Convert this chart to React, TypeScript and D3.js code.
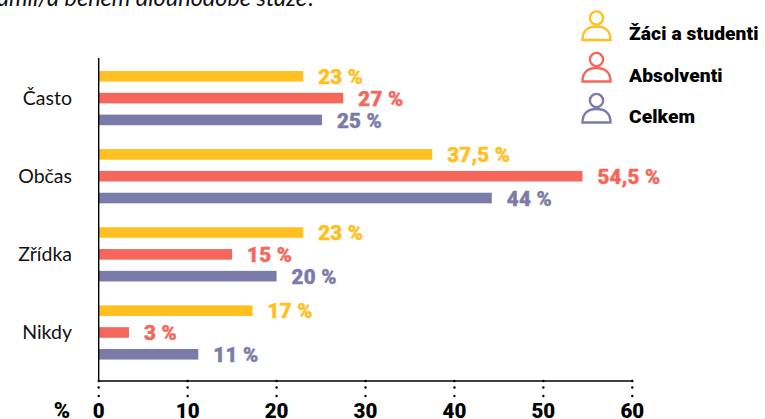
import React from "react";
import * as d3 from "d3";

const categories = ["Často", "Občas", "Zřídka", "Nikdy"];
const seriesNames = ["Žáci a studenti", "Absolventi", "Celkem"];
const students = [23, 37.5, 23, 17.3];
const graduates = [27.5, 54.4, 15, 3.4];
const total = [25.1, 44.2, 20, 11.2];
const studentLabels = ["23 %", "37,5 %", "23 %", "17 %"];
const graduateLabels = ["27 %", "54,5 %", "15 %", "3 %"];
const totalLabels = ["25 %", "44 %", "20 %", "11 %"];
const xTicks = [0, 10, 20, 30, 40, 50, 60];
const colors = ["#FFC020", "#F5675A", "#7B7BAA"];
const titleTail = "amil/a během dlouhodobé stáže?";

const FONT = "Lato, 'Open Sans', sans-serif";
const HEAVY = "Roboto, Lato, sans-serif";

export default function App() {
  const x = d3.scaleLinear().domain([0, 60]).range([98.7, 632.3]);
  const y0 = d3.scaleBand<string>().domain(categories).range([58.5, 371]).paddingInner(0).paddingOuter(0);
  const rows = [
    { v: students, l: studentLabels },
    { v: graduates, l: graduateLabels },
    { v: total, l: totalLabels },
  ];
  const y1 = d3.scaleBand<number>().domain([0, 1, 2]).range([12, 66.5]).paddingInner(0.5).paddingOuter(0);
  const barH = 10.6;
  const legendBottom = [40, 81.5, 122.5];
  return (
    <svg width={765} height={419} style={{ position: "absolute", left: 0, top: 0, background: "#fff" }}>
      <text x={-3} y={6} fontFamily={FONT} fontStyle="italic" fontSize={23.5} fill="#111">{titleTail}</text>

      {categories.map((c, i) =>
        rows.map((r, s) => {
          const yy = (y0(c) as number) + (y1(s) as number) - 0.3;
          return (
            <g key={c + s}>
              <rect x={x(0)} y={yy + 0.8} width={x(r.v[i]) - x(0)} height={barH} fill={colors[s]} />
              <text x={x(r.v[i]) + 15} y={yy + 13.8} fontFamily={HEAVY} fontWeight={900} fontSize={20.5} letterSpacing={0.25} stroke={colors[s]} strokeWidth={0.4} fill={colors[s]}>{r.l[i]}</text>
            </g>
          );
        })
      )}

      {categories.map((c) => (
        <text key={c} x={72} y={(y0(c) as number) + 46.5} textAnchor="end" fontFamily={FONT} fontSize={19.5} fill="#111">{c}</text>
      ))}

      <line x1={98.7} x2={98.7} y1={58} y2={381.5} stroke="#000" strokeWidth={1.4} />
      <line x1={98} x2={633} y1={381} y2={381} stroke="#000" strokeWidth={1.4} />
      {xTicks.map((t) => (
        <g key={t}>
          {[381, 387.5, 396].map((d) => (
            <circle key={d} cx={x(t)} cy={d} r={1.2} fill="#000" />
          ))}
          <text x={x(t)} y={417.5} textAnchor="middle" fontFamily={HEAVY} fontWeight={900} fontSize={20.5} fill="#000">{t}</text>
        </g>
      ))}
      <text x={62} y={417.5} textAnchor="middle" fontFamily={HEAVY} fontWeight={900} fontSize={22} fill="#000">%</text>

      {seriesNames.map((n, i) => {
        const b = legendBottom[i];
        return (
          <g key={n}>
            <circle cx={596.5} cy={b - 22} r={6.6} fill="none" stroke={colors[i]} strokeWidth={2.4} />
            <path
              d={`M582.5 ${b} C582.5 ${b - 10}, 589 ${b - 13.5}, 596.5 ${b - 13.5} C604 ${b - 13.5}, 610.5 ${b - 10}, 610.5 ${b} Z`}
              fill="none"
              stroke={colors[i]}
              strokeWidth={2.4}
            />
            <text x={629} y={b} fontFamily={HEAVY} fontWeight={900} fontSize={19.2} letterSpacing={0.1} fill="#000">{n}</text>
          </g>
        );
      })}
    </svg>
  );
}
